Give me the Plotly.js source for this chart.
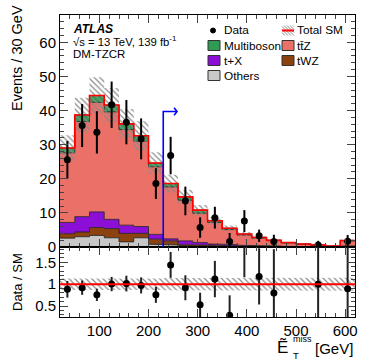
<!DOCTYPE html>
<html>
<head>
<meta charset="utf-8">
<script src="https://cdn.plot.ly/plotly-3.0.1.min.js"></script>
<style>
  body{margin:0;background:#fff;}
  #myPlot{width:374px;height:363px;}
</style>
</head>
<body>
<div id="myPlot"></div>
<script>
// Binning (GeV), 30 GeV bins
var binEdges   = [20,50,80,110,140,170,200,230,260,290,320,350,380,410,440,470,500,530,560,590,620];
var binCentres = [35,65,95,125,155,185,215,245,275,305,335,365,395,425,455,485,515,545,575,605];

// Background stack, bottom to top (events / bin)
var others     = [2.6,3.0,3.4,2.7,1.5,2.7,0.8,0.6,0.3,0.2,0.2,0.15,0.1,0.1,0.05,0.05,0.05,0.03,0.01,0.1];
var tWZ        = [1.3,1.4,2.3,2.7,2.5,1.3,1.5,1.2,0.4,0.3,0.3,0.25,0.2,0.15,0.1,0.05,0.05,0.03,0.02,0.1];
var tX         = [3.3,4.5,4.6,2.7,2.4,2.0,1.4,0.6,1.1,0.8,0.4,0.3,0.2,0.15,0.15,0.1,0.05,0.04,0.02,0.1];
var ttZ        = [20.4,27.9,32.1,31.5,28.0,25.0,19.8,15.2,11.9,8.6,6.3,4.4,3.0,2.2,1.55,1.0,0.65,0.45,0.18,1.5];
var multiboson = [1.4,1.9,2.0,2.0,1.7,1.6,1.1,1.0,1.0,0.9,0.5,0.4,0.3,0.2,0.15,0.1,0.1,0.05,0.02,0.1];
// relative uncertainty on total SM
var sysRel     = [0.13,0.13,0.12,0.12,0.12,0.13,0.13,0.14,0.14,0.14,0.14,0.14,0.15,0.15,0.15,0.15,0.15,0.15,0.15,0.15];

// Data
var dataVal = [25.6,35.6,33.6,41.7,36.6,31.7,18.6,26.8,13.5,5.7,8.6,1.6,7.6,3.3,1.6,null,null,0.6,null,1.7];
var dataErr = [5.5,6.3,6.2,6.8,6.5,6.0,4.5,5.5,4.2,3.0,3.2,2.5,3.2,1.8,2.0,null,null,1.2,null,1.8];

// SR cut arrow
var cutValue = 230;
var arrowTop = 39.7;
var arrowEnd = 258;

// helpers
function stepLine(vals){
  var xs=[], ys=[];
  for(var i=0;i<vals.length;i++){
    xs.push(binEdges[i], binEdges[i+1]);
    ys.push(vals[i], vals[i]);
  }
  return {x:xs, y:ys};
}
function band(lo, hi){
  var a=stepLine(hi), b=stepLine(lo);
  return {x:a.x.concat(b.x.slice().reverse()), y:a.y.concat(b.y.slice().reverse())};
}
function px(v){ return (v-60)/295; }
function py(v){ return (317-v)/302; }

var layers = [
  {name:"Others",     vals:others,     color:"#c8c8c8"},
  {name:"tWZ",        vals:tWZ,        color:"#8c420f"},
  {name:"t+X",        vals:tX,         color:"#8b0fd6"},
  {name:"tt\u0304Z",  vals:ttZ,        color:"#ea7068"},
  {name:"Multiboson", vals:multiboson, color:"#2f9a52"}
];

var traces = [];
var cum = binCentres.map(function(){return 0;});
layers.forEach(function(l, k){
  cum = cum.map(function(c,i){return c + l.vals[i];});
  var s = stepLine(cum);
  traces.push({
    x:s.x, y:s.y, type:"scatter", mode:"lines",
    fill: k==0 ? "tozeroy" : "tonexty",
    fillcolor:l.color, line:{color:"#1a1a1a", width:0.8},
    xaxis:"x", yaxis:"y", hoverinfo:"skip", showlegend:false
  });
});
var total = cum;

// hatched uncertainty band on total
var hb = band(total.map(function(t,i){return t*(1-sysRel[i]);}), total.map(function(t,i){return t*(1+sysRel[i]);}));
traces.push({
  x:hb.x, y:hb.y, type:"scatter", mode:"lines", fill:"toself",
  fillcolor:"rgba(0,0,0,0)", line:{width:0},
  fillpattern:{shape:"\\", fgcolor:"#8a8a8a", bgcolor:"rgba(0,0,0,0)", size:4, solidity:0.3},
  xaxis:"x", yaxis:"y", showlegend:false, hoverinfo:"skip"
});
// total SM red line
var tl = stepLine(total);
traces.push({x:tl.x, y:tl.y, type:"scatter", mode:"lines", line:{color:"#ff0000", width:1.6},
  xaxis:"x", yaxis:"y", showlegend:false, hoverinfo:"skip"});
// data
traces.push({
  x:binCentres, y:dataVal, type:"scatter", mode:"markers",
  marker:{color:"#000", size:7},
  error_y:{type:"data", array:dataErr, visible:true, color:"#000", thickness:2, width:0},
  xaxis:"x", yaxis:"y", showlegend:false
});

// ratio panel
var rb = band(sysRel.map(function(r){return 1-r;}), sysRel.map(function(r){return 1+r;}));
traces.push({
  x:rb.x, y:rb.y, type:"scatter", mode:"lines", fill:"toself",
  fillcolor:"rgba(0,0,0,0)", line:{width:0},
  fillpattern:{shape:"\\", fgcolor:"#8a8a8a", bgcolor:"rgba(0,0,0,0)", size:4, solidity:0.3},
  xaxis:"x2", yaxis:"y2", showlegend:false, hoverinfo:"skip"
});
var ratio = dataVal.map(function(d,i){return d==null ? null : d/total[i];});
var ratioErr = dataErr.map(function(e,i){return e==null ? null : e/total[i];});
traces.push({
  x:binCentres, y:ratio, type:"scatter", mode:"markers",
  marker:{color:"#000", size:7},
  error_y:{type:"data", array:ratioErr, visible:true, color:"#222", thickness:2, width:0},
  xaxis:"x2", yaxis:"y2", showlegend:false
});

var fnt = "Liberation Sans, Arial, sans-serif";
var axBase = {showline:true, linecolor:"#000", linewidth:1, mirror:"allticks", ticks:"inside",
  showgrid:false, zeroline:false, tickfont:{family:fnt, size:15, color:"#000"}};

var split = 70/302;

// legend glyphs + texts
var shapes = [], ann = [];
var rowY = [30.5, 45.5, 60.5, 75.5];
var col1 = 208, col2 = 282;
function box(x, yc, color){
  shapes.push({type:"rect", xref:"paper", yref:"paper", x0:px(x), x1:px(x+12), y0:py(yc+5), y1:py(yc-5),
    fillcolor:color, line:{color:"#333", width:1}});
}
function label(x, yc, txt){
  ann.push({xref:"paper", yref:"paper", x:px(x), y:py(yc), xanchor:"left", yanchor:"middle",
    text:txt, showarrow:false, font:{family:fnt, size:11.8, color:"#000"}});
}
shapes.push({type:"circle", xref:"paper", yref:"paper", x0:px(210.5), x1:px(215.5), y0:py(rowY[0]+2.5), y1:py(rowY[0]-2.5),
  fillcolor:"#000", line:{color:"#000", width:1}});
label(222, rowY[0], "Data");
// hatch glyph for Total SM
var hp = "";
for(var k=-10;k<12;k+=3){
  var xa = col2 + Math.max(k,0), ya = rowY[0]-5 + Math.max(-k,0);
  var len = Math.min(12 - Math.max(k,0), 10 - Math.max(-k,0));
  if(len<=0) continue;
  hp += "M"+px(xa)+","+py(ya)+" L"+px(xa+len)+","+py(ya+len)+" ";
}
shapes.push({type:"path", xref:"paper", yref:"paper", path:hp, line:{color:"#8a8a8a", width:1}});
shapes.push({type:"line", xref:"paper", yref:"paper", x0:px(col2), x1:px(col2+12), y0:py(rowY[0]), y1:py(rowY[0]),
  line:{color:"#ff0000", width:2}});
label(295, rowY[0], "Total SM");
box(col1, rowY[1], "#2f9a52"); label(222, rowY[1], "Multiboson");
box(col2, rowY[1], "#ea7068"); label(295, rowY[1], "tt\u0304Z");
box(col1, rowY[2], "#8b0fd6"); label(222, rowY[2], "t+X");
box(col2, rowY[2], "#8c420f"); label(295, rowY[2], "tWZ");
box(col1, rowY[3], "#c8c8c8"); label(222, rowY[3], "Others");

// ATLAS label
ann.push({xref:"paper", yref:"paper", x:px(71), y:py(29), xanchor:"left", yanchor:"middle",
  text:"<b><i>ATLAS</i></b>", showarrow:false, font:{family:fnt, size:12, color:"#000"}});
ann.push({xref:"paper", yref:"paper", x:px(71), y:py(41.5), xanchor:"left", yanchor:"middle",
  text:"\u221As = 13 TeV, 139 fb<sup>-1</sup>", showarrow:false, font:{family:fnt, size:11.3, color:"#000"}});
ann.push({xref:"paper", yref:"paper", x:px(71), y:py(54.5), xanchor:"left", yanchor:"middle",
  text:"DM-TZCR", showarrow:false, font:{family:fnt, size:11.5, color:"#000"}});

// axis titles
ann.push({xref:"paper", yref:"paper", x:px(17), y:py(58), xanchor:"center", yanchor:"middle", textangle:-90,
  text:"Events / 30 GeV", showarrow:false, font:{family:fnt, size:14.5, color:"#000"}});
ann.push({xref:"paper", yref:"paper", x:px(17), y:py(282), xanchor:"center", yanchor:"middle", textangle:-90,
  text:"Data / SM", showarrow:false, font:{family:fnt, size:13, color:"#000"}});
ann.push({xref:"paper", yref:"paper", x:px(290), y:py(347), xanchor:"right", yanchor:"middle",
  text:"\u1EBC", showarrow:false, font:{family:fnt, size:17, color:"#000"}});
ann.push({xref:"paper", yref:"paper", x:px(291), y:py(338.5), xanchor:"left", yanchor:"middle",
  text:"miss", showarrow:false, font:{family:fnt, size:9, color:"#000"}});
ann.push({xref:"paper", yref:"paper", x:px(291), y:py(356), xanchor:"left", yanchor:"middle",
  text:"T", showarrow:false, font:{family:fnt, size:9.5, color:"#000"}});
ann.push({xref:"paper", yref:"paper", x:1, y:py(348), xanchor:"right", yanchor:"middle",
  text:"[GeV]", showarrow:false, font:{family:fnt, size:15, color:"#000"}});

// cut arrow
shapes.push({type:"path", xref:"x", yref:"y",
  path:"M"+cutValue+",0 L"+cutValue+","+arrowTop+" L"+arrowEnd+","+arrowTop,
  line:{color:"#0000ff", width:1.6}});
shapes.push({type:"path", xref:"x", yref:"y",
  path:"M"+(arrowEnd-6)+","+(arrowTop+1.1)+" L"+arrowEnd+","+arrowTop+" L"+(arrowEnd-6)+","+(arrowTop-1.1),
  line:{color:"#0000ff", width:1.6}});
// ratio = 1 line
shapes.push({type:"line", xref:"x2", yref:"y2", x0:binEdges[0], x1:binEdges[binEdges.length-1], y0:1, y1:1,
  line:{color:"#ff0000", width:2}});

var layout = {
  width:374, height:363,
  margin:{l:60, r:19, t:15, b:46},
  paper_bgcolor:"#fff", plot_bgcolor:"#fff",
  showlegend:false,
  xaxis:Object.assign({}, axBase, {domain:[0,1], anchor:"y", range:[20,620], dtick:100, tick0:0, ticklen:8,
    showticklabels:false, minor:{dtick:20, ticklen:4, ticks:"inside"}}),
  yaxis:Object.assign({}, axBase, {domain:[split,1], anchor:"x", range:[0,68], dtick:10, tick0:0, ticklen:8,
    minor:{dtick:2, ticklen:4, ticks:"inside"}}),
  xaxis2:Object.assign({}, axBase, {domain:[0,1], anchor:"y2", range:[20,620], dtick:100, tick0:0, ticklen:8,
    minor:{dtick:20, ticklen:4, ticks:"inside"}}),
  yaxis2:Object.assign({}, axBase, {domain:[0,split], anchor:"x2", range:[0.25,1.85], dtick:0.5, tick0:0, ticklen:8,
    minor:{dtick:0.1, ticklen:4, ticks:"inside"}}),
  shapes:shapes,
  annotations:ann
};

Plotly.newPlot("myPlot", traces, layout, {staticPlot:true});
</script>
</body>
</html>
